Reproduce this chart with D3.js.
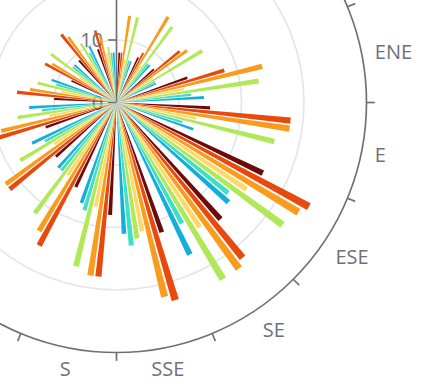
<!DOCTYPE html>
<html><head><meta charset="utf-8">
<script src="https://cdn.jsdelivr.net/npm/d3@7/dist/d3.min.js"></script>
<style>html,body{margin:0;padding:0;background:#fff;overflow:hidden}</style>
</head><body><svg id="c" width="426" height="392"></svg>
<script>
const directions = ['N','NNE','NE','ENE','E','ESE','SE','SSE','S','SSW','SW','WSW','W','WNW','NW','NNW'];
const radiusTicks = [0, 10, 20, 30, 40];
// one value per direction, N .. NNW
const series1 = [8, 8, 8, 12, 15, 26, 25, 22, 18, 15, 13, 12, 10, 8, 9, 9];
const series2 = [8, 9, 13, 18, 28, 35, 32, 33, 28, 26, 22, 20, 16, 13, 14, 12];
const series3 = [14, 16, 14, 24, 28, 34, 33, 32, 28, 24, 22, 19, 14, 12, 13, 11];
const series4 = [7, 7, 7, 11, 13, 25, 24, 21, 17, 14, 12, 11, 9, 7, 8, 8];
const series5 = [14, 15, 16, 23, 26, 33, 33, 22, 27, 22, 18, 16, 13, 13, 11, 9];
const series6 = [7, 8, 7, 12, 11, 23, 22, 23, 18, 14, 13, 12, 10, 9, 9, 8];
const series7 = [7, 8, 7, 14, 13, 24, 27, 21, 17, 14, 15, 14, 11, 9, 10, 8];
const seriesList = [series1, series2, series3, series4, series5, series6, series7];
const seriesColors = ['#6b0c0b', '#e8490f', '#f99b1d', '#fcd96b', '#b1e85a', '#3fdfc3', '#13aedb'];

const W = 426, H = 392;
const k = 1.667;                 // scale of the original rendering
const cx = 116.5, cy = 102.5, R = 250;
const fs = 20;
const axisColor = '#6E7079';
const svg = d3.select('#c');

const angle = d3.scaleBand().domain(directions).range([0, 2 * Math.PI]);
const inner = d3.scaleBand().domain(d3.range(seriesList.length))
  .range([0, angle.bandwidth()]).paddingInner(0.3 / 1.3).paddingOuter(0.846);
const radius = d3.scaleLinear().domain([0, 40]).range([0, R]);

const g = svg.append('g').attr('transform', `translate(${cx},${cy})`);
const inView = (x, y) => cx + x > -10 && cx + x < W + 10 && cy + y > 0 && cy + y < H + 15;

// split circles
g.selectAll('circle.split').data(radiusTicks.filter(t => t > 0 && t < 40)).enter()
  .append('circle').attr('r', d => radius(d)).attr('fill', 'none')
  .attr('stroke', '#E3E5EA').attr('stroke-width', k);

// angle axis line
g.append('circle').attr('r', R).attr('fill', 'none').attr('stroke', axisColor).attr('stroke-width', k);
// angle ticks at category boundaries
g.selectAll('line.atick').data(directions).enter().append('line')
  .attr('x1', d => R * Math.sin(angle(d))).attr('y1', d => -R * Math.cos(angle(d)))
  .attr('x2', d => (R + 5 * k) * Math.sin(angle(d))).attr('y2', d => -(R + 5 * k) * Math.cos(angle(d)))
  .attr('stroke', axisColor).attr('stroke-width', k);
// angle labels (only those that fall inside the visible window)
const lr = R + 8 * k;
directions.forEach(d => {
  const a = angle(d) + angle.bandwidth() / 2;
  const px = lr * Math.sin(a), py = -lr * Math.cos(a);
  const anchor = Math.abs(px) / R < 0.3 ? 'middle' : (px > 0 ? 'start' : 'end');
  let by;
  if (Math.abs(py) / R < 0.3) by = py + 0.4 * fs;
  else if (py > 0) by = py + 0.77 * fs;
  else by = py - 0.22 * fs;
  if (!inView(px, by)) return;
  g.append('text').attr('x', px).attr('y', by).attr('text-anchor', anchor)
    .attr('font-family', 'Open Sans, sans-serif').attr('font-size', fs)
    .attr('fill', axisColor).text(d);
});

// radius axis
g.append('line').attr('x1', 0).attr('y1', 0).attr('x2', 0).attr('y2', -R)
  .attr('stroke', axisColor).attr('stroke-width', k);
g.selectAll('line.rtick').data(radiusTicks).enter().append('line')
  .attr('x1', 0).attr('x2', -5 * k).attr('y1', d => -radius(d)).attr('y2', d => -radius(d))
  .attr('stroke', axisColor).attr('stroke-width', k);
g.selectAll('text.rlab').data(radiusTicks.filter(t => inView(0, -radius(t) + 0.36 * fs))).enter().append('text')
  .attr('x', -8 * k).attr('y', d => -radius(d) + 0.36 * fs).attr('text-anchor', 'end')
  .attr('font-family', 'Open Sans, sans-serif').attr('font-size', fs)
  .attr('fill', axisColor).text(d => d);

// bars
const arc = d3.arc();
seriesList.forEach((vals, si) => {
  g.append('g').selectAll('path').data(vals).enter().append('path')
    .attr('d', (v, i) => {
      const a0 = angle(directions[i]) + inner(si);
      return arc({innerRadius: 0, outerRadius: radius(v), startAngle: a0, endAngle: a0 + inner.bandwidth()});
    })
    .attr('fill', seriesColors[si]);
});
</script></body></html>
